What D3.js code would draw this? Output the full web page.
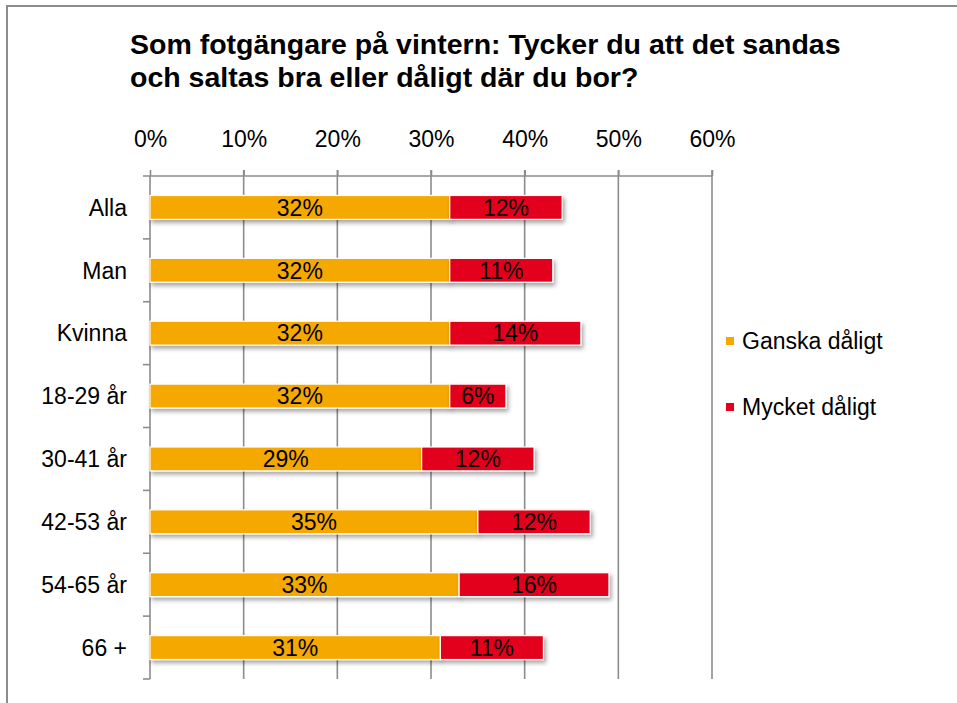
<!DOCTYPE html>
<html><head><meta charset="utf-8">
<script src="https://cdn.jsdelivr.net/npm/d3@7"></script>
<style>body{margin:0;background:#fff}svg{display:block}text{font-family:"Liberation Sans",Arial,sans-serif}</style>
</head><body>
<script>
const categories = ["Alla","Man","Kvinna","18-29 år","30-41 år","42-53 år","54-65 år","66 +"];
const ganska = [32,32,32,32,29,35,33,31];
const mycket = [12,11,14,6,12,12,16,11];
const seriesNames = ["Ganska dåligt","Mycket dåligt"];
const colors = ["#F5A800","#E2001A"];
const tickValues = [0,10,20,30,40,50,60];
const titleLines = ["Som fotgängare på vintern: Tycker du att det sandas","och saltas bra eller dåligt där du bor?"];

const W=957,H=703;
const svg=d3.select("body").append("svg").attr("width",W).attr("height",H);
const defs=svg.append("defs");
const f=defs.append("filter").attr("id","sh").attr("x","-10%").attr("y","-40%").attr("width","130%").attr("height","200%");
f.append("feDropShadow").attr("dx",2).attr("dy",3).attr("stdDeviation",2).attr("flood-color","#000").attr("flood-opacity",0.35);

svg.append("rect").attr("x",7).attr("y",6).attr("width",1200).attr("height",1200).attr("fill","none").attr("stroke","#8c8c8c").attr("stroke-width",2);

const t=svg.append("text").attr("x",130).attr("font-size",28.5).attr("font-weight","bold").attr("fill","#000");
titleLines.forEach((l,i)=>t.append("tspan").attr("x",130).attr("y",54+i*33).text(l));

const x=d3.scaleLinear().domain([0,60]).range([150,712]);
const y=d3.scaleBand().domain(categories).range([176,679]).paddingInner(0.62).paddingOuter(0.31);
const yb=d3.scaleBand().domain(categories).range([176,679]);

svg.append("g").selectAll("line").data(tickValues.slice(1)).join("line")
 .attr("x1",d=>x(d)).attr("x2",d=>x(d)).attr("y1",170).attr("y2",679)
 .attr("stroke","#8c8c8c").attr("stroke-width",1.6);
const ax=svg.append("g").attr("transform","translate(0,176)").call(d3.axisTop(x).tickValues(tickValues).tickFormat(d=>d+"%").tickSize(6).tickPadding(23));
ax.select(".domain").remove();
ax.selectAll(".tick line").attr("stroke","#8c8c8c").attr("stroke-width",1.6);
ax.selectAll(".tick text").attr("font-size",23).attr("fill","#000").attr("font-family","Liberation Sans, Arial, sans-serif");
svg.append("line").attr("x1",143).attr("x2",712).attr("y1",176).attr("y2",176).attr("stroke","#8c8c8c").attr("stroke-width",1.6);
svg.append("line").attr("x1",150).attr("x2",150).attr("y1",176).attr("y2",679).attr("stroke","#8c8c8c").attr("stroke-width",1.6);
svg.append("g").selectAll("line").data(categories).join("line")
 .attr("x1",143).attr("x2",150).attr("y1",d=>yb(d)+yb.bandwidth()).attr("y2",d=>yb(d)+yb.bandwidth())
 .attr("stroke","#8c8c8c").attr("stroke-width",1.6);
svg.append("g").selectAll("text").data(categories).join("text")
 .attr("x",127).attr("y",d=>y(d)+y.bandwidth()/2).attr("dy","0.36em").attr("text-anchor","end")
 .attr("font-size",23).attr("fill","#000").text(d=>d);

const rows=categories.map((c,i)=>({c,vals:[ganska[i],mycket[i]]}));
const stacked=[];
rows.forEach(r=>{let s=0;r.vals.forEach((v,k)=>{stacked.push({c:r.c,k,x0:s,x1:s+v,v});s+=v;});});
const bars=svg.append("g");
bars.selectAll("rect").data(stacked).join("rect")
 .attr("x",d=>x(d.x0)).attr("width",d=>x(d.x1)-x(d.x0))
 .attr("y",d=>y(d.c)).attr("height",y.bandwidth())
 .attr("fill",d=>colors[d.k]).attr("stroke","#fff").attr("stroke-width",1.2).attr("filter","url(#sh)");
bars.selectAll("text").data(stacked).join("text")
 .attr("x",d=>(x(d.x0)+x(d.x1))/2).attr("y",d=>y(d.c)+y.bandwidth()/2).attr("dy","0.36em")
 .attr("text-anchor","middle").attr("font-size",23).attr("fill","#000").text(d=>d.v+"%");

const lg=svg.append("g");
seriesNames.forEach((n,i)=>{
  const yy=341+i*66;
  lg.append("rect").attr("x",726).attr("y",yy-4).attr("width",8).attr("height",8).attr("fill",colors[i]);
  lg.append("text").attr("x",742).attr("y",yy).attr("dy","0.36em").attr("font-size",23).attr("fill","#000").text(n);
});
</script>
</body></html>
